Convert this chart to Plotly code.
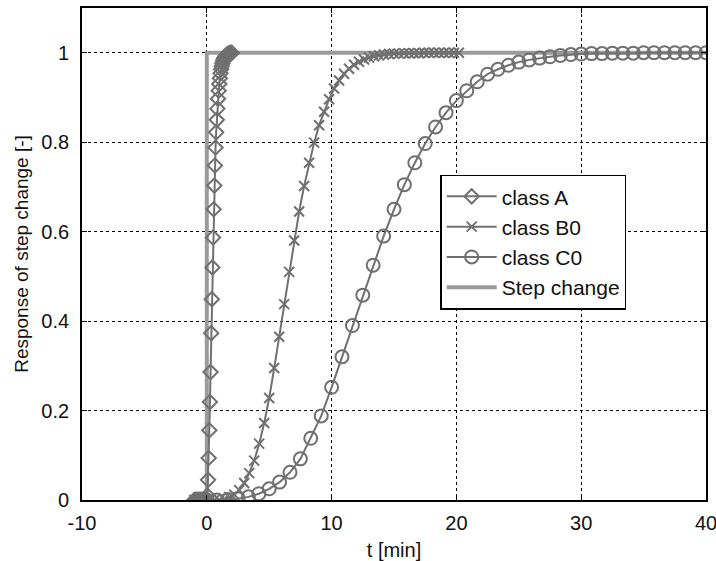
import plotly.graph_objects as go

# ---- data ----
t_a = [-1.00, -0.95, -0.90, -0.85, -0.80, -0.75, -0.70, -0.65, -0.60, -0.55,
       -0.50, -0.45, -0.40, -0.35, -0.30, -0.25, -0.20, -0.15, -0.10, -0.05,
       0.00, 0.05, 0.10, 0.15, 0.20, 0.25, 0.30, 0.35, 0.40, 0.45,
       0.50, 0.55, 0.60, 0.65, 0.70, 0.75, 0.80, 0.85, 0.90, 0.95,
       1.00, 1.05, 1.10, 1.15, 1.20, 1.25, 1.30, 1.35, 1.40, 1.45,
       1.50, 1.55, 1.60, 1.65, 1.70, 1.75, 1.80, 1.85, 1.90, 1.95, 2.00]
y_a = [0, 0, 0, 0, 0, 0, 0, 0, 0, 0,
       0, 0, 0, 0, 0, 0, 0, 0, 0, 0,
       0.0, 0.010, 0.045, 0.094, 0.156, 0.219, 0.286, 0.373, 0.449, 0.520,
       0.587, 0.650, 0.703, 0.748, 0.788, 0.822, 0.850, 0.875, 0.897, 0.915,
       0.930, 0.943, 0.954, 0.963, 0.970, 0.976, 0.981, 0.985, 0.988, 0.990,
       0.992, 0.994, 0.995, 0.996, 0.997, 0.998, 0.998, 0.999, 0.999, 0.999, 1.000]

t_b = [-1.0, -0.6, -0.2, 0.2, 0.6, 1.0, 1.4, 1.8, 2.2, 2.6,
       3.0, 3.4, 3.8, 4.2, 4.6, 5.0, 5.4, 5.8, 6.2, 6.6,
       7.0, 7.4, 7.8, 8.2, 8.6, 9.0, 9.4, 9.8, 10.2, 10.6,
       11.0, 11.4, 11.8, 12.2, 12.6, 13.0, 13.4, 13.8, 14.2, 14.6,
       15.0, 15.4, 15.8, 16.2, 16.6, 17.0, 17.4, 17.8, 18.2, 18.6,
       19.0, 19.4, 19.8, 20.2]
y_b = [0, 0, 0, 0, 0, 0, 0.002, 0.006, 0.012, 0.022,
       0.038, 0.060, 0.088, 0.126, 0.172, 0.228, 0.295, 0.365, 0.438, 0.510,
       0.580, 0.645, 0.702, 0.754, 0.799, 0.838, 0.868, 0.896, 0.920, 0.938,
       0.953, 0.964, 0.973, 0.980, 0.985, 0.989, 0.992, 0.994, 0.996, 0.997,
       0.998, 0.998, 0.999, 0.999, 0.999, 0.999, 1.0, 1.0, 1.0, 1.0,
       1.0, 1.0, 1.0, 1.0]

t_c = [-0.83, 0.00, 0.83, 1.67, 2.50, 3.33, 4.17, 5.00, 5.83, 6.67,
       7.50, 8.33, 9.17, 10.00, 10.83, 11.67, 12.50, 13.33, 14.17, 15.00,
       15.83, 16.67, 17.50, 18.33, 19.17, 20.00, 20.83, 21.67, 22.50, 23.33,
       24.17, 25.00, 25.83, 26.67, 27.50, 28.33, 29.17, 30.00, 30.83, 31.67,
       32.50, 33.33, 34.17, 35.00, 35.83, 36.67, 37.50, 38.33, 39.17, 40.00]
y_c = [0, 0, 0, 0.001, 0.003, 0.007, 0.014, 0.025, 0.040, 0.062,
       0.092, 0.138, 0.188, 0.252, 0.320, 0.390, 0.458, 0.525, 0.590, 0.650,
       0.705, 0.754, 0.797, 0.834, 0.866, 0.893, 0.915, 0.935, 0.952, 0.963,
       0.972, 0.979, 0.984, 0.988, 0.991, 0.994, 0.996, 0.997, 0.998, 0.998,
       0.999, 0.999, 0.999, 1.0, 1.0, 1.0, 1.0, 1.0, 1.0, 1.0]

t_step = [-1, 0, 0, 40]
y_step = [0, 0, 1, 1]

x_ticks = [-10, 0, 10, 20, 30, 40]
y_ticks = [0, 0.2, 0.4, 0.6, 0.8, 1]
y_tick_text = ["0", "0.2", "0.4", "0.6", "0.8", "1"]

CURVE = "rgb(112,112,112)"
STEP = "rgb(155,155,155)"
FONT = "Liberation Sans, Arial"

fig = go.Figure()
fig.add_trace(go.Scatter(x=t_step, y=y_step, mode="lines", name="Step change",
                         line=dict(color=STEP, width=4), legendrank=4))
fig.add_trace(go.Scatter(x=t_a, y=y_a, mode="lines+markers", name="class A",
                         line=dict(color=CURVE, width=2),
                         marker=dict(symbol="diamond-open", size=11, color=CURVE,
                                     line=dict(width=2, color=CURVE)), legendrank=1))
fig.add_trace(go.Scatter(x=t_b, y=y_b, mode="lines+markers", name="class B0",
                         line=dict(color=CURVE, width=2),
                         marker=dict(symbol="x-thin-open", size=10, color=CURVE,
                                     line=dict(width=2, color=CURVE)), legendrank=2))
fig.add_trace(go.Scatter(x=t_c, y=y_c, mode="lines+markers", name="class C0",
                         line=dict(color=CURVE, width=2),
                         marker=dict(symbol="circle-open", size=13, color=CURVE,
                                     line=dict(width=2, color=CURVE)), legendrank=3))

axis_common = dict(showline=True, linecolor="black", linewidth=1.8, mirror="ticks",
                   ticks="inside", ticklen=5, tickcolor="black", tickwidth=1,
                   showgrid=True, gridcolor="black", gridwidth=1, griddash="dot",
                   zeroline=False, automargin=False, ticklabeloverflow="allow",
                   tickfont=dict(family=FONT, size=20, color="#111"))

fig.update_xaxes(range=[-10, 40], tickvals=x_ticks, ticktext=[str(v) for v in x_ticks],
                 title=dict(text="t [min]", font=dict(family=FONT, size=20, color="#111"),
                            standoff=10),
                 ticklabelstandoff=4, **axis_common)
fig.update_yaxes(range=[0, 1.1], tickvals=y_ticks, ticktext=y_tick_text,
                 title=dict(text="Response of step change [-]",
                            font=dict(family=FONT, size=19, color="#111"),
                            standoff=8),
                 ticklabelstandoff=7, **axis_common)

fig.update_layout(
    width=716, height=561,
    margin=dict(l=82, r=10, t=8, b=61),
    plot_bgcolor="white", paper_bgcolor="white",
    legend=dict(x=0.574, y=0.524, xanchor="left", yanchor="middle",
                bgcolor="white", bordercolor="black", borderwidth=1.5,
                font=dict(family=FONT, size=21, color="#111"),
                tracegroupgap=0, itemwidth=50, entrywidth=200, entrywidthmode="pixels"),
    showlegend=True,
)

fig.write_html("out.html")
